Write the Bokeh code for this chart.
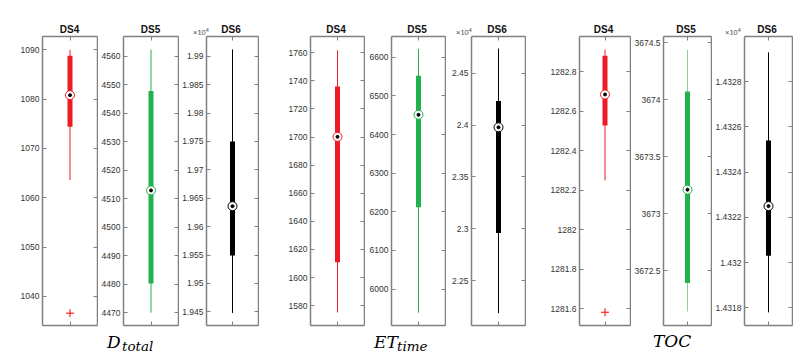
from bokeh.plotting import figure
from bokeh.layouts import row, column
from bokeh.models import Range1d, FixedTicker, LinearAxis, PrintfTickFormatter, Div
from bokeh.embed import file_html
from bokeh.resources import INLINE

# ---------------- data ----------------
panel_titles = ["DS4", "DS5", "DS6", "DS4", "DS5", "DS6", "DS4", "DS5", "DS6"]
group_names = ["D", "ET", "TOC"]
group_subs = ["total", "time", ""]

# box statistics (DS6 panels are in units of 1e4)
upper_whisker = [1090.0, 4562.3, 1.9912, 1761.7, 6621.5, 2.4738, 1282.911, 3674.437, 1.43293]
q3 = [1088.8, 4547.8, 1.9750, 1736.0, 6552.0, 2.4232, 1282.880, 3674.073, 1.43254]
median = [1080.8, 4512.9, 1.9636, 1700.2, 6451.0, 2.3978, 1282.684, 3673.210, 1.43225]
q1 = [1074.4, 4480.2, 1.9549, 1611.0, 6212.0, 2.2958, 1282.527, 3672.390, 1.43203]
lower_whisker = [1063.6, 4470.0, 1.9448, 1575.2, 5939.0, 2.2185, 1282.250, 3672.140, 1.43178]
outliers = [[1036.6], [], [], [], [], [], [1281.583], [], []]

y_ticks = [
    [1040, 1050, 1060, 1070, 1080, 1090],
    [4470, 4480, 4490, 4500, 4510, 4520, 4530, 4540, 4550, 4560],
    [1.945, 1.95, 1.955, 1.96, 1.965, 1.97, 1.975, 1.98, 1.985, 1.99],
    [1580, 1600, 1620, 1640, 1660, 1680, 1700, 1720, 1740, 1760],
    [6000, 6100, 6200, 6300, 6400, 6500, 6600],
    [2.25, 2.3, 2.35, 2.4, 2.45],
    [1281.6, 1281.8, 1282, 1282.2, 1282.4, 1282.6, 1282.8],
    [3672.5, 3673, 3673.5, 3674, 3674.5],
    [1.4318, 1.432, 1.4322, 1.4324, 1.4326, 1.4328],
]
y_limits = [
    (1034.1, 1092.7), (4465.5, 4566.9), (1.94259, 1.99347),
    (1565.9, 1771.6), (5906.0, 6653.5), (2.2066, 2.4854),
    (1281.516, 1282.977), (3672.017, 3674.555), (1.431722, 1.433),
]
scaled = [False, False, True, False, False, True, False, False, True]

# ---------------- styles / layout ----------------
box_colors = ["#ed1c24", "#22b14c", "#000000"] * 3
whisker_colors = ["#ed1c24", "#22b14c", "#000000", "#ed1c24", "#22b14c", "#000000",
                  "#ed1c24", "#86d597", "#000000"]
frames = [(42, 97), (123, 178), (205, 257), (309, 363), (390, 444), (470, 524),
          (578, 629), (662, 710), (743, 791)]
exp_left = [0, 0, 193, 0, 0, 456, 0, 0, 725]
TOP_H = 34
FRAME_H = 289
AX = "#808080"
FONT = "Liberation Sans"

figs = []
prev_end = 0
for i in range(9):
    fl, fr = frames[i]
    left_b = fl - prev_end
    right_b = 1
    fw = fr - fl
    prev_end = fr + right_b
    p = figure(frame_width=fw, frame_height=FRAME_H, output_backend="svg",
               toolbar_location=None, x_axis_location=None, y_axis_location=None,
               min_border_left=left_b, min_border_right=right_b,
               min_border_top=2, min_border_bottom=2,
               x_range=Range1d(0.5, 1.5), y_range=Range1d(*y_limits[i]))
    p.xgrid.visible = False
    p.ygrid.visible = False
    p.outline_line_color = None
    p.background_fill_color = "white"
    p.border_fill_color = "white"

    ticker = FixedTicker(ticks=y_ticks[i])
    yl = LinearAxis(ticker=ticker, formatter=PrintfTickFormatter(format="%g"))
    yr = LinearAxis(ticker=ticker)
    xb = LinearAxis(ticker=FixedTicker(ticks=[1]))
    xt = LinearAxis(ticker=FixedTicker(ticks=[1]))
    for ax in (yl, yr, xb, xt):
        ax.axis_line_color = AX
        ax.axis_line_width = 1.5
        ax.major_tick_line_color = AX
        ax.major_tick_in = 4
        ax.major_tick_out = 0
        ax.minor_tick_line_color = None
    yl.major_label_text_font = FONT
    yl.major_label_text_font_size = "8.5px"
    yl.major_label_text_color = "#333333"
    yl.major_label_standoff = 3
    for ax in (yr, xb, xt):
        ax.major_label_text_font_size = "0px"
        ax.major_label_text_alpha = 0
        ax.major_label_standoff = 0
    p.add_layout(yl, "left")
    p.add_layout(yr, "right")
    p.add_layout(xb, "below")
    p.add_layout(xt, "above")

    # whiskers
    p.segment(x0=[1], y0=[lower_whisker[i]], x1=[1], y1=[upper_whisker[i]],
              line_color=whisker_colors[i], line_width=1)
    # box
    p.segment(x0=[1], y0=[q1[i]], x1=[1], y1=[q3[i]],
              line_color=box_colors[i], line_width=5, line_cap="butt")
    # median marker
    p.scatter(x=[1], y=[median[i]], marker="circle", size=9,
              fill_color="white", line_color=box_colors[i], line_width=1)
    p.scatter(x=[1], y=[median[i]], marker="circle", size=3,
              fill_color="black", line_color="black")
    # outliers
    if outliers[i]:
        p.scatter(x=[1] * len(outliers[i]), y=outliers[i], marker="cross", size=8,
                  line_color="#ff0000", line_width=1)
    figs.append(p)

TOTAL_W = frames[-1][1] + 1

# ---- top strip: panel titles and exponent labels ----
spans = []
for i in range(9):
    fl, fr = frames[i]
    spans.append(
        f'<span style="position:absolute;left:{fl}px;top:23.6px;width:{fr - fl}px;'
        f'text-align:center;font-family:\'{FONT}\';font-weight:bold;font-size:10px;'
        f'line-height:normal;color:#111;white-space:nowrap">{panel_titles[i]}</span>')
    if scaled[i]:
        spans.append(
            f'<span style="position:absolute;left:{exp_left[i]}px;top:26.5px;'
            f'font-family:\'{FONT}\';font-size:7.5px;line-height:normal;color:#444;'
            f'white-space:nowrap">×10<sup style="font-size:5.5px;vertical-align:3px">4</sup></span>')
top_html = (f'<div style="position:relative;width:{TOTAL_W}px;height:{TOP_H}px">'
            + "".join(spans) + "</div>")
top_div = Div(text=top_html, width=TOTAL_W, height=TOP_H, margin=0)

# ---- bottom strip: group labels ----
main_pos = [(107, 4.5), (374, 4.5), (653, 3.5)]
sub_pos = [(122, 10.5), (397, 10.5), (0, 0)]
bspans = []
for g in range(3):
    x, y = main_pos[g]
    bspans.append(
        f'<span style="position:absolute;left:{x}px;top:{y}px;font-family:\'DejaVu Serif\';'
        f'font-style:italic;font-size:17px;line-height:normal;color:#000;'
        f'white-space:nowrap">{group_names[g]}</span>')
    if group_subs[g]:
        sx, sy = sub_pos[g]
        bspans.append(
            f'<span style="position:absolute;left:{sx}px;top:{sy}px;font-family:\'DejaVu Serif\';'
            f'font-style:italic;font-size:13.5px;line-height:normal;color:#000;'
            f'white-space:nowrap">{group_subs[g]}</span>')
BOT_H = 28
bot_html = (f'<div style="position:relative;width:{TOTAL_W}px;height:{BOT_H}px">'
            + "".join(bspans) + "</div>")
bot_div = Div(text=bot_html, width=TOTAL_W, height=BOT_H, margin=0)

layout = column(top_div, row(*figs, spacing=0), bot_div, spacing=0)
open("out.html", "w").write(file_html(layout, INLINE))
